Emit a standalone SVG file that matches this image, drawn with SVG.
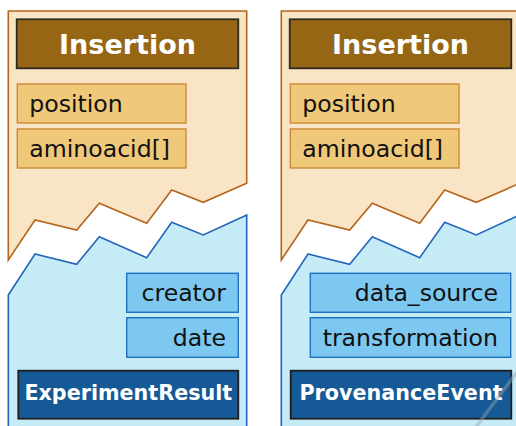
<svg xmlns="http://www.w3.org/2000/svg" xmlns:xlink="http://www.w3.org/1999/xlink" width="516" height="426" viewBox="0 0 516 426">
  <style>
    .tan { fill: #F9E5C5; stroke: #B5651D; stroke-width: 1.6; }
    .sky { fill: #C5EBF7; stroke: #2266BB; stroke-width: 1.6; }
    .hdr-tan { fill: #976615; stroke: #2E2A22; stroke-width: 1.8; }
    .hdr-blue { fill: #155A96; stroke: #1E1E1E; stroke-width: 1.8; }
    .attr-tan { fill: #F0C87A; stroke: #CC8A36; stroke-width: 1.4; }
    .attr-blue { fill: #7DC8F0; stroke: #2270C0; stroke-width: 1.4; }
    .title { font-family: "DejaVu Sans", sans-serif; font-weight: bold; fill: #FFFFFF; text-anchor: middle; }
    .attr { font-family: "DejaVu Sans", sans-serif; font-size: 23.6px; fill: #111111; }
  </style>
  <defs>
    <!-- upper torn sheet -->
    <path id="sheet-top" d="M8.3,11 H246.7 V183.3 L203.3,202.3 L171.7,190 L146.7,223.3 L99.3,203.3 L76.7,230 L35,220 L8.3,260 Z"/>
    <!-- lower torn sheet -->
    <path id="sheet-bottom" d="M8.3,295 L35,254 L76.7,264.3 L99.3,236.7 L146.7,257.7 L171.7,222.3 L203.3,235 L246.7,215 V440 H8.3 Z"/>
  </defs>

  <!-- left card: Insertion / ExperimentResult -->
  <g id="card-experiment">
    <use xlink:href="#sheet-top" class="tan"/>
    <use xlink:href="#sheet-bottom" class="sky"/>
  </g>
  <g id="insertion-left">
    <rect class="hdr-tan" x="16.7" y="19.3" width="221.6" height="49"/>
    <text class="title" x="127.5" y="54" font-size="27">Insertion</text>
  </g>
  <g id="position-left">
    <rect class="attr-tan" x="17.3" y="84" width="168.7" height="39"/>
    <text class="attr" x="29.3" y="111.7">position</text>
  </g>
  <g id="aminoacid-left">
    <rect class="attr-tan" x="17.3" y="129" width="168.7" height="39"/>
    <text class="attr" x="29.3" y="156.7">aminoacid[]</text>
  </g>
  <g id="creator">
    <rect class="attr-blue" x="126.7" y="273.3" width="111.6" height="39"/>
    <text class="attr" x="226" y="300.7" text-anchor="end">creator</text>
  </g>
  <g id="date">
    <rect class="attr-blue" x="126.7" y="317.7" width="111.6" height="39.6"/>
    <text class="attr" x="226" y="345.7" text-anchor="end">date</text>
  </g>
  <g id="experiment-result">
    <rect class="hdr-blue" x="18.3" y="370.7" width="220" height="48"/>
    <text class="title" x="128.3" y="400" font-size="20.7">ExperimentResult</text>
  </g>

  <!-- right card: Insertion / ProvenanceEvent -->
  <g id="card-provenance" transform="translate(273,0)">
    <use xlink:href="#sheet-top" class="tan"/>
    <use xlink:href="#sheet-bottom" class="sky"/>
  </g>
  <g id="insertion-right">
    <rect class="hdr-tan" x="289.7" y="19.3" width="221.6" height="49"/>
    <text class="title" x="400.5" y="54" font-size="27">Insertion</text>
  </g>
  <g id="position-right">
    <rect class="attr-tan" x="290.3" y="84" width="168.7" height="39"/>
    <text class="attr" x="302.3" y="111.7">position</text>
  </g>
  <g id="aminoacid-right">
    <rect class="attr-tan" x="290.3" y="129" width="168.7" height="39"/>
    <text class="attr" x="302.3" y="156.7">aminoacid[]</text>
  </g>
  <g id="data-source">
    <rect class="attr-blue" x="310.3" y="273.3" width="200.4" height="39"/>
    <text class="attr" x="498" y="300.7" text-anchor="end">data_source</text>
  </g>
  <g id="transformation">
    <rect class="attr-blue" x="310.3" y="317.7" width="200.4" height="39.6"/>
    <text class="attr" x="498" y="345.7" text-anchor="end">transformation</text>
  </g>
  <g id="provenance-event">
    <rect class="hdr-blue" x="290.7" y="370.7" width="220.6" height="48"/>
    <text class="title" x="401" y="400" font-size="20.7">ProvenanceEvent</text>
  </g>

  <!-- faint diagonal stroke at the lower right -->
  <line x1="517" y1="372" x2="476" y2="427" stroke="#9AA4AC" stroke-width="3.5" stroke-opacity="0.45"/>
</svg>
